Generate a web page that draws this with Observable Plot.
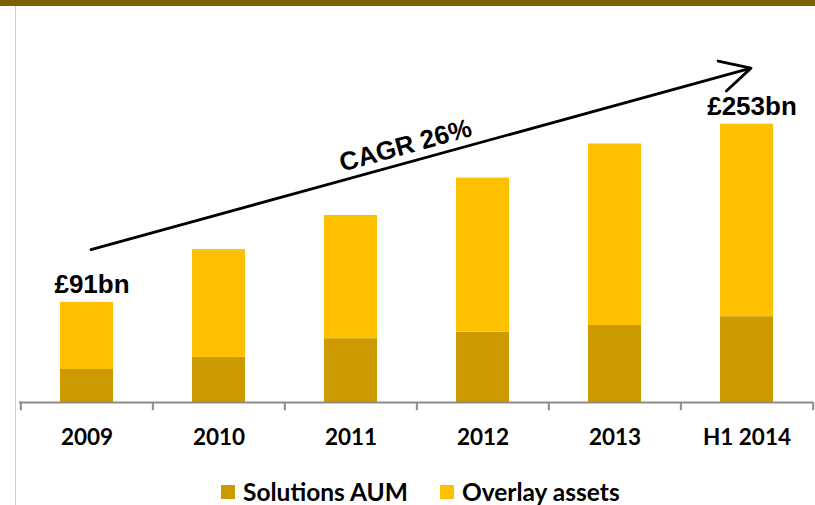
<!DOCTYPE html>
<html>
<head>
<meta charset="utf-8">
<script src="https://cdn.jsdelivr.net/npm/d3@7"></script>
<script src="https://cdn.jsdelivr.net/npm/@observablehq/plot@0.6"></script>
<style>
  html, body { margin: 0; padding: 0; background: #fff; }
  #wrap { position: relative; width: 815px; height: 505px; overflow: hidden; background: #fff; }
  #stripe { position: absolute; left: 0; top: 0; width: 815px; height: 6px; background: #7f6000; z-index: 2; }
  #vline { position: absolute; left: 15px; top: 6px; width: 1px; height: 499px; background: #cfcfcf; z-index: 2; }
  #chart { position: absolute; left: 0; top: 0; }
  #legend { position: absolute; left: 221px; top: 477px; display: flex; align-items: center;
            font-family: Lato, sans-serif; font-weight: bold; font-size: 24.5px; color: #000; }
  .sw { width: 14px; height: 14px; margin-right: 8px; }
  .item { display: flex; align-items: center; margin-right: 32px; }
</style>
</head>
<body>
<div id="wrap">
  <div id="chart"></div>
  <div id="stripe"></div>
  <div id="vline"></div>
  <div id="legend"></div>
</div>
<script>
// ---- data ----
const years = ["2009", "2010", "2011", "2012", "2013", "H1 2014"];
const series = ["Solutions AUM", "Overlay assets"];
const colors = ["#cc9900", "#ffc000"];
const solutionsAUM = [30, 41, 58, 64, 70, 78];
const overlayAssets = [61, 98, 112, 140, 165, 175];
const totalLabels = ["£91bn", null, null, null, null, "£253bn"];
const cagrLabel = "CAGR 26%";
const arrowStart = {year: "2009", value: 139};
const arrowEnd = {year: "H1 2014", value: 304};

// ---- table ----
const rows = [];
years.forEach((y, i) => {
  rows.push({year: y, series: series[0], value: solutionsAUM[i]});
  rows.push({year: y, series: series[1], value: overlayAssets[i]});
});
const totals = years.map((y, i) => ({year: y, total: solutionsAUM[i] + overlayAssets[i], label: totalLabels[i]}))
  .filter(d => d.label);

const W = 815, H = 465, mL = 19, mR = 2, mT = 72, mB = 63;
const step = (W - mL - mR) / years.length;
const tickData = years.map(y => ({year: y, off: -step / 2}))
  .concat([{year: years[years.length - 1], off: step / 2}]);

const chart = Plot.plot({
  width: W, height: H,
  marginLeft: mL, marginRight: mR, marginTop: mT, marginBottom: mB,
  x: {domain: years, paddingInner: 0.6, paddingOuter: 0.3, label: null},
  y: {domain: [0, 300], axis: null},
  color: {domain: series, range: colors},
  style: {fontFamily: "Lato, sans-serif", overflow: "visible", background: "transparent"},
  marks: [
    Plot.barY(rows, {x: "year", y: "value", fill: "series"}),
    Plot.ruleY([0], {stroke: "#8c8c8c", strokeWidth: 2}),
    ...tickData.map(t => Plot.ruleX([t], {x: "year", y1: 0, y2: -7.5, dx: t.off, stroke: "#8c8c8c", strokeWidth: 2})),
    Plot.axisX({tickSize: 0, tickPadding: 27, fontSize: 22.5, fontWeight: "bold", fill: "#000"}),
    Plot.text(totals, {x: "year", y: "total", text: "label", lineAnchor: "bottom", dy: -9, dx: 5,
      fontSize: 26, fontWeight: "bold", fontFamily: "Liberation Sans, Arial, sans-serif", fill: "#000"}),
    Plot.arrow([{a: arrowStart, b: arrowEnd}], {
      x1: d => d.a.year, y1: d => d.a.value, x2: d => d.b.year, y2: d => d.b.value,
      dx: 4, stroke: "#000", strokeWidth: 2.8, headLength: 18, headAngle: 55}),
    Plot.text([{year: "2011", value: 233.5, label: cagrLabel}], {x: "year", y: "value", text: "label",
      dx: 54.5, rotate: -15.5, fontSize: 26, fontWeight: "bold",
      fontFamily: "Liberation Sans, Arial, sans-serif", fill: "#000"})
  ]
});
document.getElementById("chart").appendChild(chart);

// ---- legend ----
const lg = document.getElementById("legend");
series.forEach((s, i) => {
  const it = document.createElement("div");
  it.className = "item";
  const sw = document.createElement("div");
  sw.className = "sw";
  sw.style.background = colors[i];
  const tx = document.createElement("span");
  tx.textContent = s;
  it.appendChild(sw); it.appendChild(tx);
  lg.appendChild(it);
});
</script>
</body>
</html>
